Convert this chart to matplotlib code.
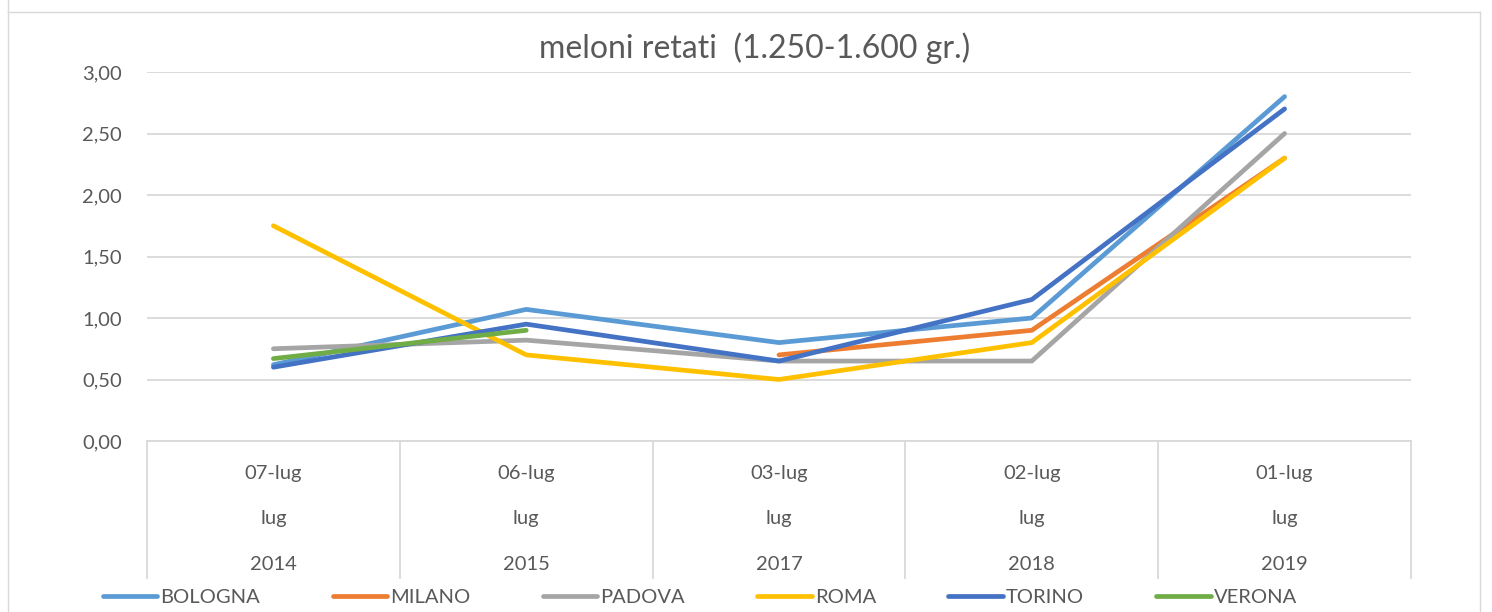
import matplotlib
matplotlib.use("Agg")
import matplotlib.pyplot as plt
from matplotlib.lines import Line2D
from matplotlib.transforms import blended_transform_factory
import numpy as np

# data
days = ["07-lug", "06-lug", "03-lug", "02-lug", "01-lug"]
months = ["lug", "lug", "lug", "lug", "lug"]
years = ["2014", "2015", "2017", "2018", "2019"]

bologna = [0.62, 1.07, 0.80, 1.00, 2.80]
milano = [None, None, 0.70, 0.90, 2.30]
padova = [0.75, 0.82, 0.65, 0.65, 2.50]
roma = [1.75, 0.70, 0.50, 0.80, 2.30]
torino = [0.60, 0.95, 0.65, 1.15, 2.70]
verona = [0.67, 0.90, None, None, None]

series = [
    ("BOLOGNA", bologna, "#5B9BD5"),
    ("MILANO", milano, "#ED7D31"),
    ("PADOVA", padova, "#A5A5A5"),
    ("ROMA", roma, "#FFC000"),
    ("TORINO", torino, "#4472C4"),
    ("VERONA", verona, "#70AD47"),
]

TEXT = "#595959"
GRID = "#D9D9D9"
FS = 14.5

plt.rcParams["font.family"] = ["Lato", "DejaVu Sans"]

fig = plt.figure(figsize=(14.92, 6.12), dpi=100)
ax = fig.add_axes([147 / 1492, 1 - 441 / 612, (1411 - 147) / 1492, (441 - 72) / 612])

x = np.arange(len(days))
for name, vals, color in series:
    y = np.array([np.nan if v is None else v for v in vals], dtype=float)
    ax.plot(x, y, color=color, lw=3.4, solid_capstyle="round", solid_joinstyle="round", label=name)

ax.set_xlim(-0.5, len(days) - 0.5)
ax.set_ylim(0, 3)
ax.set_yticks(np.arange(0, 3.01, 0.5))
ax.set_yticklabels([f"{v:.2f}".replace(".", ",") for v in np.arange(0, 3.01, 0.5)],
                   fontsize=FS, color=TEXT)
ax.tick_params(axis="y", length=0, pad=18)
ax.set_xticks([])
ax.grid(axis="y", color=GRID, lw=1.3)
ax.set_axisbelow(True)
for s in ["top", "right", "left"]:
    ax.spines[s].set_visible(False)
ax.spines["bottom"].set_color(GRID)
ax.spines["bottom"].set_linewidth(1.3)

# multi-level category labels with separators
tr = blended_transform_factory(ax.transData, ax.transAxes)
for b in np.arange(-0.5, len(days), 1.0):
    ax.add_line(Line2D([b, b], [0, -0.371], transform=tr, color=GRID, lw=1.3, clip_on=False))
for i in range(len(days)):
    ax.text(i, -0.087, days[i], transform=tr, ha="center", va="center", fontsize=FS, color=TEXT)
    ax.text(i, -0.209, months[i], transform=tr, ha="center", va="center", fontsize=FS, color=TEXT)
    ax.text(i, -0.336, years[i], transform=tr, ha="center", va="center", fontsize=FS, color=TEXT)

fig.text(755 / 1492, 1 - 48 / 612, "meloni retati  (1.250-1.600 gr.)", ha="center", va="center",
         fontsize=23, color=TEXT)

leg = fig.legend(loc="center", bbox_to_anchor=(700 / 1492, 1 - 597 / 612), ncol=6, frameon=False,
                 fontsize=FS, handlelength=2.7, handletextpad=0.15, columnspacing=3.6,
                 labelcolor=TEXT)
for h in leg.get_lines():
    h.set_linewidth(3.4)
    h.set_solid_capstyle("round")

# chart area border
for xs, ys in [([8, 8], [0, 12]), ([8, 1480], [12, 12]), ([1480, 1480], [12, 612])]:
    fig.add_artist(Line2D([v / 1492 for v in xs], [1 - v / 612 for v in ys], color=GRID, lw=1.0))
fig.add_artist(Line2D([8 / 1492, 8 / 1492], [0, 1 - 12 / 612], color=GRID, lw=1.0))

fig.savefig("out.png", dpi=100)
